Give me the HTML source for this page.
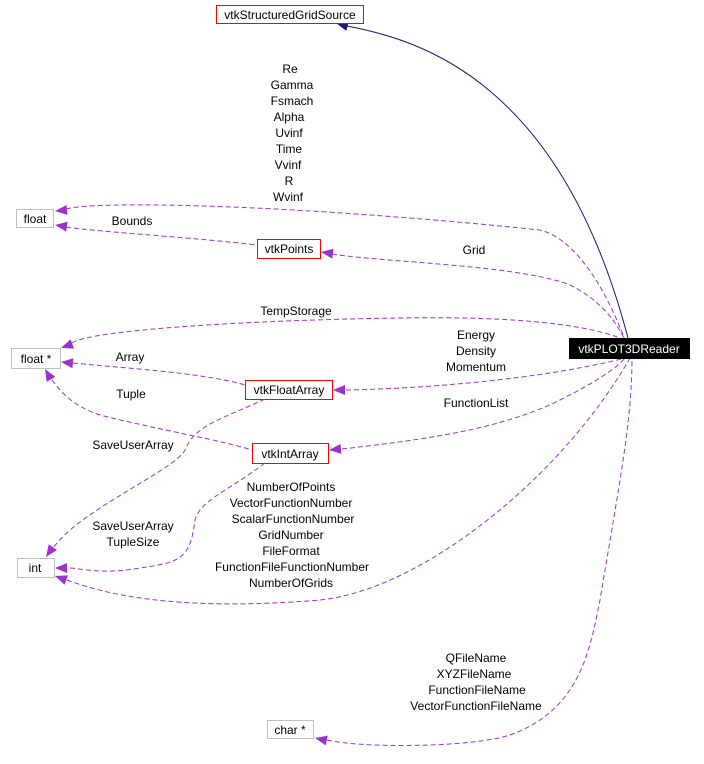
<!DOCTYPE html>
<html><head><meta charset="utf-8"><style>
html,body{margin:0;padding:0;background:#fff;}
svg{display:block;}
text{font-family:"Liberation Sans",Arial,sans-serif;font-size:12px;fill:#000;}
</style></head><body>
<svg width="704" height="764" viewBox="0 0 704 764" xmlns="http://www.w3.org/2000/svg">
<g fill="none" stroke="#9a32cd" stroke-dasharray="5,3" stroke-width="1">
<path d="M66,209 C100,200 300,205 540,230 C580,240 610,300 625,340"/>
<path d="M66,227 C100,232 200,238 257,245"/>
<path d="M332,254 C380,262 520,265 570,285 C600,300 615,320 625,340"/>
<path d="M72,343 C90,330 250,320 400,318 C520,316 590,325 625,340"/>
<path d="M73,363 C120,368 200,372 245,385"/>
<path d="M346,390 C450,388 560,375 625,358"/>
<path d="M52,380 C60,390 70,405 100,415 C160,430 220,440 252,450"/>
<path d="M342,449 C420,440 500,430 560,400 C590,385 615,370 625,358"/>
<path d="M265,399 C220,420 195,425 185,450 C175,470 80,510 54,547"/>
<path d="M265,463 C230,490 200,500 195,520 C190,560 180,562 140,568 C100,575 80,568 68,568"/>
<path d="M67,580 C120,600 200,610 320,600 C420,590 560,480 630,358"/>
<path d="M327,740 C360,748 470,748 510,735 C580,710 590,650 600,600 C620,480 632,420 632,358"/>
</g>
<path d="M347,26 C420,40 560,80 628,338" fill="none" stroke="#191970" stroke-width="1"/>
<g fill="#9a32cd">
<polygon points="0,0 12,-5 12,5" transform="translate(55,211) rotate(-5)"/>
<polygon points="0,0 12,-5 12,5" transform="translate(55,225) rotate(8)"/>
<polygon points="0,0 12,-5 12,5" transform="translate(321,252) rotate(8)"/>
<polygon points="0,0 12,-5 12,5" transform="translate(61,348) rotate(-20)"/>
<polygon points="0,0 12,-5 12,5" transform="translate(61,362) rotate(6)"/>
<polygon points="0,0 12,-5 12,5" transform="translate(333,390) rotate(0)"/>
<polygon points="0,0 12,-5 12,5" transform="translate(45,369) rotate(60)"/>
<polygon points="0,0 12,-5 12,5" transform="translate(329,450) rotate(-5)"/>
<polygon points="0,0 12,-5 12,5" transform="translate(46,557) rotate(-55)"/>
<polygon points="0,0 12,-5 12,5" transform="translate(55,568) rotate(0)"/>
<polygon points="0,0 12,-5 12,5" transform="translate(55,576) rotate(20)"/>
<polygon points="0,0 12,-5 12,5" transform="translate(315,738) rotate(12)"/>
</g>
<polygon points="0,0 12,-5 12,5" transform="translate(336,23) rotate(15)" fill="#191970"/>
<g stroke-width="1">
<rect x="216.5" y="5.5" width="147" height="18" fill="#fff" stroke="#f00"/>
<rect x="16.5" y="209.5" width="37" height="18" fill="#fff" stroke="#bfbfbf"/>
<rect x="257.5" y="239.5" width="63" height="19" fill="#fff" stroke="#f00"/>
<rect x="11.5" y="348.5" width="49" height="20" fill="#fff" stroke="#bfbfbf"/>
<rect x="569.5" y="338.5" width="120" height="20" fill="#000" stroke="#000"/>
<rect x="245.5" y="380.5" width="87" height="19" fill="#fff" stroke="#f00"/>
<rect x="252.5" y="443.5" width="76" height="20" fill="#fff" stroke="#f00"/>
<rect x="17.5" y="558.5" width="37" height="19" fill="#fff" stroke="#bfbfbf"/>
<rect x="267.5" y="720.5" width="46" height="18" fill="#fff" stroke="#bfbfbf"/>
</g>
<text x="290" y="19" text-anchor="middle">vtkStructuredGridSource</text>
<text x="35" y="223" text-anchor="middle">float</text>
<text x="289" y="253" text-anchor="middle">vtkPoints</text>
<text x="36" y="363" text-anchor="middle">float *</text>
<text x="629" y="353" text-anchor="middle" style="fill:#fff">vtkPLOT3DReader</text>
<text x="289" y="394" text-anchor="middle">vtkFloatArray</text>
<text x="290" y="458" text-anchor="middle">vtkIntArray</text>
<text x="35" y="572" text-anchor="middle">int</text>
<text x="290" y="734" text-anchor="middle">char *</text>
<g text-anchor="middle">
<text x="290" y="73">Re</text><text x="292" y="89">Gamma</text><text x="292" y="105">Fsmach</text>
<text x="289" y="121">Alpha</text><text x="289" y="137">Uvinf</text><text x="289" y="153">Time</text>
<text x="288" y="169">Vvinf</text><text x="289" y="185">R</text><text x="288" y="201">Wvinf</text>
<text x="132" y="225">Bounds</text>
<text x="474" y="254">Grid</text>
<text x="296" y="315">TempStorage</text>
<text x="476" y="339">Energy</text><text x="476" y="355">Density</text><text x="476" y="371">Momentum</text>
<text x="130" y="361">Array</text>
<text x="131" y="398">Tuple</text>
<text x="476" y="407">FunctionList</text>
<text x="133" y="449">SaveUserArray</text>
<text x="133" y="530">SaveUserArray</text><text x="133" y="546">TupleSize</text>
<text x="291" y="491">NumberOfPoints</text><text x="291" y="507">VectorFunctionNumber</text>
<text x="293" y="523">ScalarFunctionNumber</text><text x="291" y="539">GridNumber</text>
<text x="291" y="555">FileFormat</text><text x="292" y="571">FunctionFileFunctionNumber</text>
<text x="291" y="587">NumberOfGrids</text>
<text x="476" y="662">QFileName</text><text x="474" y="678">XYZFileName</text>
<text x="477" y="694">FunctionFileName</text><text x="476" y="710">VectorFunctionFileName</text>
</g>
</svg>
</body></html>
